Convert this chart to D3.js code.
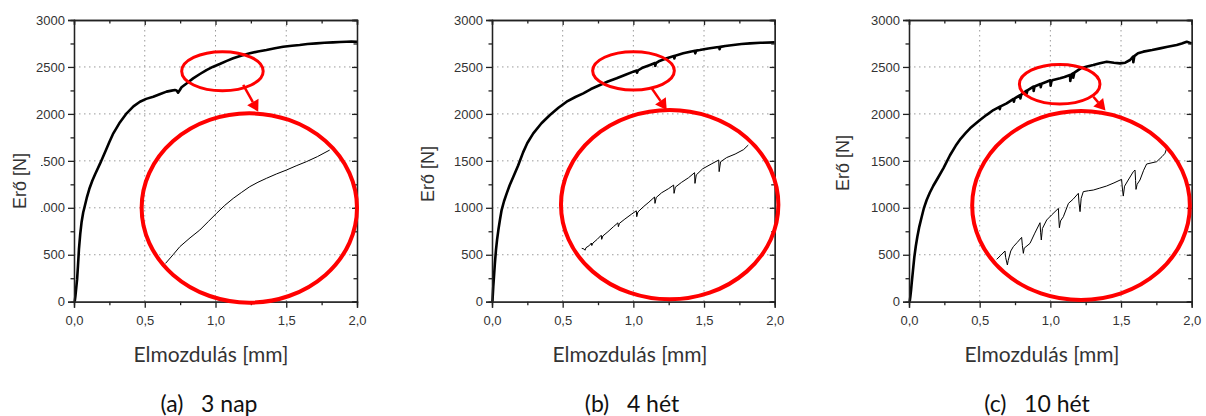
<!DOCTYPE html>
<html><head><meta charset="utf-8">
<script src="https://cdn.jsdelivr.net/npm/d3@7"></script>
<style>html,body{margin:0;padding:0;background:#fff}svg{display:block}</style>
</head><body>
<svg id="chart" width="1206" height="416"></svg>
<script>
// ---------- data ----------
const xTicks = [0, 0.5, 1.0, 1.5, 2.0];
const xTickLabels = ["0,0", "0,5", "1,0", "1,5", "2,0"];
const xMinorTicks = [0.25, 0.75, 1.25, 1.75];
const yTicks = [0, 500, 1000, 1500, 2000, 2500, 3000];
const yMinorTicks = [250, 750, 1250, 1750, 2250, 2750];
const xTitle = "Elmozdulás [mm]";
const yTitle = "Erő [N]";
const captions = ["(a)   3 nap", "(b)   4 hét", "(c)   10 hét"];

// main curves [displacement mm, force N]
const curveA = [[0.005,0],[0.01,60],[0.016,150],[0.022,240],[0.028,380],[0.035,560],[0.044,720],[0.054,852],[0.065,950],[0.078,1030],[0.09,1105],[0.108,1200],[0.13,1290],[0.15,1360],[0.184,1470],[0.226,1615],[0.25,1700],[0.278,1793],[0.32,1900],[0.372,2006],[0.42,2080],[0.466,2130],[0.51,2160],[0.56,2183],[0.61,2212],[0.654,2237],[0.69,2248],[0.713,2254],[0.725,2250],[0.736,2226],[0.748,2255],[0.76,2283],[0.8,2330],[0.842,2378],[0.89,2425],[0.936,2467],[0.98,2500],[1.03,2531],[1.08,2565],[1.125,2592],[1.18,2620],[1.242,2645],[1.3,2665],[1.36,2680],[1.42,2700],[1.478,2716],[1.54,2726],[1.595,2734],[1.65,2744],[1.713,2751],[1.77,2757],[1.83,2762],[1.88,2766],[1.925,2769],[1.96,2770],[2.0,2769]];
const curveB = [[0.003,0],[0.005,53],[0.009,160],[0.014,266],[0.02,400],[0.028,550],[0.036,660],[0.045,763],[0.056,870],[0.068,976],[0.085,1070],[0.104,1154],[0.125,1240],[0.151,1331],[0.185,1450],[0.22,1590],[0.25,1690],[0.292,1793],[0.35,1900],[0.41,1988],[0.47,2065],[0.528,2130],[0.59,2180],[0.646,2219],[0.70,2265],[0.764,2308],[0.82,2345],[0.882,2379],[0.94,2415],[1.0,2450],[1.024,2462],[1.026,2438],[1.032,2462],[1.06,2488],[1.118,2521],[1.153,2542],[1.155,2512],[1.16,2540],[1.18,2560],[1.236,2592],[1.288,2617],[1.29,2590],[1.296,2620],[1.353,2645],[1.41,2665],[1.436,2672],[1.438,2645],[1.445,2674],[1.47,2680],[1.53,2697],[1.59,2709],[1.608,2713],[1.61,2688],[1.616,2714],[1.65,2723],[1.707,2734],[1.765,2744],[1.825,2751],[1.9,2757],[2.0,2762]];
const curveC = [[0.005,0],[0.01,60],[0.015,130],[0.019,195],[0.028,330],[0.038,479],[0.048,590],[0.059,692],[0.073,800],[0.09,905],[0.106,1000],[0.125,1083],[0.147,1160],[0.172,1235],[0.205,1320],[0.243,1420],[0.29,1560],[0.33,1660],[0.365,1735],[0.40,1795],[0.432,1846],[0.47,1895],[0.502,1935],[0.55,1990],[0.597,2041],[0.64,2075],[0.642,2050],[0.648,2080],[0.691,2112],[0.74,2160],[0.742,2130],[0.748,2165],[0.786,2201],[0.788,2165],[0.794,2205],[0.83,2245],[0.832,2215],[0.838,2250],[0.88,2290],[0.882,2245],[0.888,2292],[0.93,2318],[0.932,2285],[0.938,2322],[0.974,2343],[1.0,2358],[1.002,2300],[1.008,2350],[1.02,2362],[1.069,2379],[1.10,2392],[1.139,2414],[1.141,2350],[1.148,2420],[1.16,2432],[1.162,2385],[1.17,2440],[1.215,2485],[1.26,2505],[1.304,2521],[1.35,2540],[1.399,2556],[1.45,2545],[1.493,2538],[1.53,2545],[1.564,2574],[1.585,2609],[1.587,2550],[1.594,2615],[1.62,2645],[1.658,2663],[1.72,2680],[1.776,2698],[1.83,2715],[1.894,2734],[1.93,2750],[1.965,2769],[2.0,2751]];

// zoomed-in detail curves drawn inside the big circles (plotted in the same axes)
const insetA = [[0.647,408],[0.70,500],[0.748,586],[0.82,680],[0.889,763],[0.95,855],[1.007,941],[1.065,1025],[1.125,1100],[1.185,1165],[1.242,1225],[1.30,1272],[1.36,1314],[1.43,1360],[1.501,1402],[1.57,1447],[1.642,1491],[1.72,1545],[1.807,1615]];
const insetB = [[0.635,568],[0.65,562],[0.658,548],[0.665,575],[0.69,600],[0.703,625],[0.706,598],[0.714,625],[0.745,665],[0.773,708],[0.776,664],[0.784,700],[0.82,745],[0.86,800],[0.891,840],[0.894,799],[0.902,835],[0.94,880],[0.985,930],[1.021,968],[1.024,905],[1.032,955],[1.07,1010],[1.11,1060],[1.15,1115],[1.153,1047],[1.162,1110],[1.20,1160],[1.25,1205],[1.285,1242],[1.288,1154],[1.297,1220],[1.34,1270],[1.39,1320],[1.433,1374],[1.436,1260],[1.445,1350],[1.49,1415],[1.55,1465],[1.604,1509],[1.607,1385],[1.617,1490],[1.66,1535],[1.72,1572],[1.78,1620],[1.813,1668]];
const insetC = [[0.62,451],[0.65,495],[0.679,540],[0.684,470],[0.696,391],[0.702,440],[0.72,540],[0.738,586],[0.765,630],[0.797,685],[0.802,600],[0.809,515],[0.815,570],[0.856,621],[0.89,730],[0.927,841],[0.931,740],[0.936,657],[0.944,780],[0.974,870],[1.01,925],[1.057,994],[1.06,880],[1.064,788],[1.072,860],[1.092,905],[1.128,1047],[1.16,1090],[1.198,1154],[1.203,1050],[1.21,959],[1.218,1100],[1.233,1172],[1.27,1182],[1.304,1189],[1.35,1210],[1.398,1232],[1.45,1265],[1.504,1303],[1.51,1200],[1.516,1125],[1.525,1230],[1.551,1296],[1.587,1385],[1.599,1402],[1.603,1290],[1.606,1196],[1.614,1250],[1.634,1296],[1.66,1400],[1.681,1466],[1.752,1491],[1.79,1545],[1.811,1580],[1.823,1633]];

// annotation ellipses / arrows in data units: [cx, cy, rx, ry]
const smallEllipses = [[1.049,2455,0.288,208],[1.001,2459,0.289,204],[1.066,2316,0.285,211]];
const bigEllipses = [[1.239,998,0.761,1008],[1.257,1033,0.769,1008],[1.217,1024,0.77,1006]];
const arrows = [[[1.196,2308],[1.302,2024]],[[1.13,2273],[1.236,2042]],[[1.304,2183],[1.39,2035]]];

const mainCurves = [curveA, curveB, curveC];
const insetCurves = [insetA, insetB, insetC];

// ---------- layout ----------
const panels = [
  {left:74,  right:357,   yTitleX:20,  yTitleY:181, xTitleX:211, capX:209, maskLabels:true},
  {left:492, right:774.7, yTitleX:428, yTitleY:174, xTitleX:630, capX:632, maskLabels:false},
  {left:909, right:1191.7,yTitleX:843, yTitleY:163, xTitleX:1042,capX:1037,maskLabels:false}
];
const plotTop = 20, plotBottom = 301.7;
const font = "'Liberation Sans', Arial, sans-serif";
const titleFont = "Lato, 'Open Sans', sans-serif";

const svg = d3.select("#chart");
svg.append("rect").attr("width",1206).attr("height",416).attr("fill","#fff");

panels.forEach((p, i) => {
  const x = d3.scaleLinear().domain([0, 2]).range([p.left, p.right]);
  const y = d3.scaleLinear().domain([0, 3000]).range([plotBottom, plotTop]);
  const g = svg.append("g");

  // grid
  g.append("g").selectAll("line").data(xTicks.slice(1, -1)).join("line")
    .attr("x1", d => x(d)).attr("x2", d => x(d)).attr("y1", plotTop).attr("y2", plotBottom)
    .attr("stroke", "#9a9a9a").attr("stroke-width", 1).attr("stroke-dasharray", "1.5,3.5");
  g.append("g").selectAll("line").data(yTicks.slice(1, -1)).join("line")
    .attr("y1", d => y(d)).attr("y2", d => y(d)).attr("x1", p.left).attr("x2", p.right)
    .attr("stroke", "#9a9a9a").attr("stroke-width", 1).attr("stroke-dasharray", "1.5,3.5");

  // main curve
  const line = d3.line().x(d => x(d[0])).y(d => y(d[1]));
  g.append("path").datum(mainCurves[i]).attr("d", line)
    .attr("fill", "none").attr("stroke", "#000").attr("stroke-width", 2.6).attr("stroke-linejoin", "round");

  const axStyle = sel => { sel.select(".domain").attr("stroke", "#222").attr("stroke-width", 1.3);
    sel.selectAll(".tick line").attr("stroke", "#222").attr("stroke-width", 1.3); };
  const labStyle = sel => sel.selectAll("text").style("font-family", font).style("font-size", "13px").attr("fill", "#333");

  const bx = g.append("g").attr("transform", `translate(0,${plotBottom})`)
    .call(d3.axisBottom(x).tickValues(xTicks).tickFormat((d, k) => xTickLabels[k]).tickSizeOuter(0).tickSize(6).tickPadding(8));
  axStyle(bx); labStyle(bx);
  const bxm = g.append("g").attr("transform", `translate(0,${plotBottom})`)
    .call(d3.axisBottom(x).tickValues(xMinorTicks).tickFormat("").tickSizeOuter(0).tickSize(3.5));
  axStyle(bxm);
  const tx = g.append("g").attr("transform", `translate(0,${plotTop})`)
    .call(d3.axisBottom(x).tickValues(xTicks).tickFormat("").tickSizeOuter(0).tickSize(5));
  axStyle(tx);
  const txm = g.append("g").attr("transform", `translate(0,${plotTop})`)
    .call(d3.axisBottom(x).tickValues(xMinorTicks).tickFormat("").tickSizeOuter(0).tickSize(3.5));
  axStyle(txm);
  const ly = g.append("g").attr("transform", `translate(${p.left},0)`)
    .call(d3.axisLeft(y).tickValues(yTicks).tickFormat(d3.format("d")).tickSizeOuter(0).tickSize(6).tickPadding(3));
  axStyle(ly); labStyle(ly);
  const lym = g.append("g").attr("transform", `translate(${p.left},0)`)
    .call(d3.axisLeft(y).tickValues(yMinorTicks).tickFormat("").tickSizeOuter(0).tickSize(3.5));
  axStyle(lym);
  const ry = g.append("g").attr("transform", `translate(${p.right},0)`)
    .call(d3.axisLeft(y).tickValues(yTicks).tickFormat("").tickSizeOuter(0).tickSize(5));
  axStyle(ry);
  const rym = g.append("g").attr("transform", `translate(${p.right},0)`)
    .call(d3.axisLeft(y).tickValues(yMinorTicks).tickFormat("").tickSizeOuter(0).tickSize(3.5));
  axStyle(rym);

  // inset detail curve
  g.append("path").datum(insetCurves[i]).attr("d", line)
    .attr("fill", "none").attr("stroke", "#000").attr("stroke-width", 1).attr("stroke-linejoin", "round");

  // red annotation ellipses
  const se = smallEllipses[i], be = bigEllipses[i];
  g.append("ellipse").attr("cx", x(se[0])).attr("cy", y(se[1]))
    .attr("rx", x(se[2]) - x(0)).attr("ry", y(0) - y(se[3]))
    .attr("fill", "none").attr("stroke", "#ff0000").attr("stroke-width", 3);
  g.append("ellipse").attr("cx", x(be[0])).attr("cy", y(be[1]))
    .attr("rx", x(be[2]) - x(0)).attr("ry", y(0) - y(be[3]))
    .attr("fill", "none").attr("stroke", "#ff0000").attr("stroke-width", 4);

  // arrow
  const a = arrows[i];
  const x1 = x(a[0][0]), y1 = y(a[0][1]), x2 = x(a[1][0]), y2 = y(a[1][1]);
  const ang = Math.atan2(y2 - y1, x2 - x1);
  const hl = 11, hw = 6.5;
  const bxp = x2 - hl * Math.cos(ang), byp = y2 - hl * Math.sin(ang);
  g.append("line").attr("x1", x1).attr("y1", y1).attr("x2", bxp).attr("y2", byp)
    .attr("stroke", "#ff0000").attr("stroke-width", 2.5);
  g.append("path").attr("d", `M${x2},${y2}L${bxp + hw * Math.sin(ang)},${byp - hw * Math.cos(ang)}L${bxp - hw * Math.sin(ang)},${byp + hw * Math.cos(ang)}Z`)
    .attr("fill", "#ff0000");

  if (p.maskLabels) {
    g.append("rect").attr("x", 0).attr("y", 132).attr("width", 41).attr("height", 95).attr("fill", "#fff");
  }
  g.append("text").attr("transform", `translate(${p.yTitleX},${p.yTitleY}) rotate(-90)`)
    .attr("text-anchor", "middle").attr("dominant-baseline", "central")
    .style("font-family", font).style("font-size", "18px").attr("fill", "#333").text(yTitle);

  g.append("text").attr("x", p.xTitleX).attr("y", 362).attr("text-anchor", "middle")
    .style("font-family", titleFont).style("font-size", "21px").attr("fill", "#333").text(xTitle);

  g.append("text").attr("x", p.capX).attr("y", 412).attr("text-anchor", "middle")
    .style("white-space", "pre")
    .style("font-family", titleFont).style("font-size", "23px").attr("fill", "#111").text(captions[i]);
});
</script>
</body></html>
